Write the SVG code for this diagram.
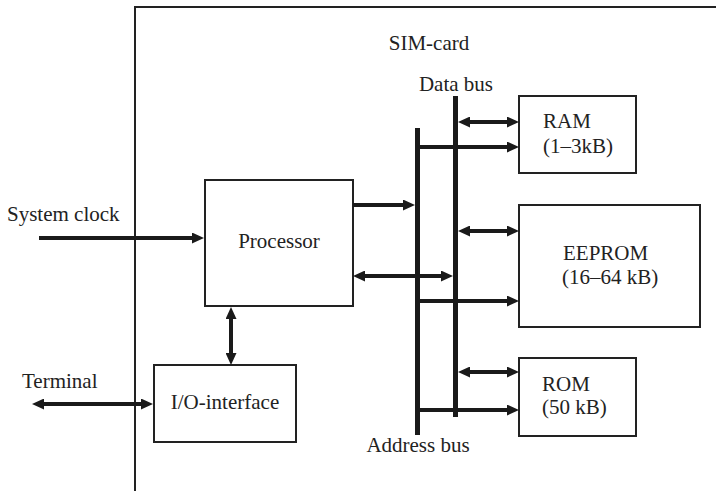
<svg xmlns="http://www.w3.org/2000/svg" width="716" height="491" viewBox="0 0 716 491" font-family="'Liberation Serif', 'Times New Roman', Times, 'DejaVu Serif', serif">
<style>
text{font-family:'Liberation Serif','Times New Roman',Times,'DejaVu Serif',serif;font-size:21px;fill:#222}
.box{fill:#fff;stroke:#222;stroke-width:2}
.bus{stroke:#1a1a1a;stroke-width:5;fill:none}
.ar{stroke:#1a1a1a;stroke-width:4;fill:none}
.one{marker-end:url(#ah)}
.two{marker-start:url(#ah);marker-end:url(#ah)}
</style>
<defs>
<marker id="ah" markerUnits="userSpaceOnUse" markerWidth="12" markerHeight="11" refX="6" refY="5.5" orient="auto-start-reverse" viewBox="0 0 12 11">
<path d="M0,0 L12,5.5 L0,11 Z" fill="#1a1a1a"/>
</marker>
</defs>
<g id="sim-card">
<path d="M135,491 V7 H716" fill="none" stroke="#222" stroke-width="2"/>
<text x="429" y="50" text-anchor="middle">SIM-card</text>
</g>
<g id="processor">
<rect class="box" x="205" y="180" width="148" height="126"/>
<text x="279" y="248" text-anchor="middle">Processor</text>
</g>
<g id="io-interface">
<rect class="box" x="154" y="365" width="142" height="77"/>
<text x="225" y="409" text-anchor="middle">I/O-interface</text>
</g>
<g id="ram">
<rect class="box" x="519" y="96" width="117" height="77"/>
<text x="543" y="128">RAM</text>
<text x="543" y="153">(1–3kB)</text>
</g>
<g id="eeprom">
<rect class="box" x="519" y="205" width="181" height="122"/>
<text x="563" y="260">EEPROM</text>
<text x="562" y="284">(16–64 kB)</text>
</g>
<g id="rom">
<rect class="box" x="519" y="358" width="117" height="78"/>
<text x="542" y="391">ROM</text>
<text x="542" y="414">(50 kB)</text>
</g>
<g id="data-bus">
<line class="bus" x1="455.5" y1="96" x2="455.5" y2="417"/>
<text x="456" y="91" text-anchor="middle">Data bus</text>
</g>
<g id="address-bus">
<line class="bus" x1="417.5" y1="128" x2="417.5" y2="435"/>
<text x="418" y="452" text-anchor="middle">Address bus</text>
</g>
<g id="labels">
<text x="7" y="221">System clock</text>
<text x="22" y="388">Terminal</text>
</g>
<g id="connectors">
<path class="ar one" d="M39,238 H198"/>
<path class="ar one" d="M353,205 H409"/>
<path class="ar two" d="M359,276 H447"/>
<path class="ar two" d="M231,313 V359"/>
<path class="ar two" d="M38,404 H147"/>
<path class="ar two" d="M464,122 H513"/>
<path class="ar one" d="M420,147 H513"/>
<path class="ar two" d="M464,231 H513"/>
<path class="ar one" d="M420,301 H513"/>
<path class="ar two" d="M464,372 H513"/>
<path class="ar one" d="M420,410 H513"/>
</g>
</svg>
